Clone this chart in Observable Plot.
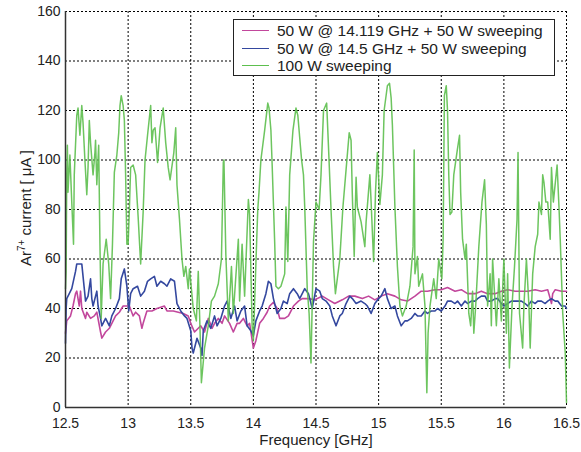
<!DOCTYPE html>
<html>
<head>
<meta charset="utf-8">
<script src="https://cdn.jsdelivr.net/npm/d3@7"></script>
<script src="https://cdn.jsdelivr.net/npm/@observablehq/plot@0.6"></script>
<style>
  html, body { margin: 0; padding: 0; background: #fff; }
  #wrap { position: relative; width: 581px; height: 452px; font-family: "Liberation Sans", Arial, sans-serif; color: #222; }
  #legend { position: absolute; left: 233px; top: 19px; width: 320px; height: 55px; border: 1px solid #222; background: #fff; font-size: 15.5px; }
  .row { position: absolute; left: 0; height: 18px; line-height: 18px; white-space: nowrap; }
  .sw { position: absolute; left: 8px; top: 8px; width: 27px; height: 0; border-top: 1.5px solid; }
  .lt { position: absolute; left: 43px; top: 0; }
  #xlabel { position: absolute; left: 0; width: 632px; top: 432px; height: 16px; line-height: 16px; text-align: center; font-size: 15px; }
  #ylabel { position: absolute; left: 25px; top: 208px; transform: translate(-50%, -50%) rotate(-90deg); font-size: 15px; white-space: nowrap; }
  #ylabel sup { font-size: 10px; vertical-align: 0; position: relative; top: -6px; }
</style>
</head>
<body>
<div id="wrap">
  <div id="chart"></div>
  <div id="legend"></div>
  <div id="xlabel">Frequency [GHz]</div>
  <div id="ylabel">Ar<sup>7+</sup> current [ μA ]</div>
</div>
<script>
const seriesNames = ["50 W @ 14.119 GHz + 50 W sweeping", "50 W @ 14.5 GHz + 50 W sweeping", "100 W sweeping"];
const seriesColors = ["#c2479c", "#34489f", "#5dbf4e"];
const xTicks = [12.5, 13, 13.5, 14, 14.5, 15, 15.5, 16, 16.5];
const xTickLabels = ["12.5", "13", "13.5", "14", "14.5", "15", "15.5", "16", "16.5"];
const yTicks = [0, 20, 40, 60, 80, 100, 120, 140, 160];

const magentaFreq = [12.5,12.51,12.54,12.56,12.58,12.59,12.61,12.62,12.63,12.66,12.67,12.7,12.73,12.75,12.78,12.79,12.82,12.85,12.87,12.9,12.93,12.96,12.98,13.01,13.04,13.06,13.09,13.11,13.12,13.15,13.19,13.23,13.26,13.29,13.31,13.36,13.4,13.44,13.48,13.5,13.53,13.56,13.58,13.61,13.64,13.67,13.69,13.72,13.75,13.77,13.81,13.84,13.87,13.89,13.92,13.95,13.97,14.0,14.02,14.05,14.08,14.11,14.13,14.16,14.19,14.21,14.25,14.28,14.32,14.36,14.39,14.44,14.49,14.55,14.6,14.65,14.71,14.76,14.81,14.87,14.92,14.97,15.02,15.07,15.13,15.18,15.23,15.29,15.34,15.39,15.45,15.5,15.55,15.61,15.66,15.71,15.77,15.82,15.87,15.93,15.98,16.03,16.09,16.14,16.19,16.25,16.3,16.35,16.37,16.38,16.39,16.41,16.46,16.5];
const magentaCurrent = [30,35,37,41,46,47,41,47,40,36,38.5,36,37,38.5,30.5,28,30.5,32,34,37,38.5,41,41,41,37,38.5,37,32,34,39,39,40,40.5,41,39,39,38.5,38,37,34,30.5,32,33,30.5,36,32,34,36,34,37,34,30.5,34,34,36,33,34,24,27,34,36,38.5,41,42.5,40,36,36,37,41,43,44,44,43.5,45,43.5,42,43.5,45,45,44,45,43.5,45,46,45,43.5,43,45,47,47,47.6,47.6,48.5,47,47.6,46,46,47,46,46,47,47.6,47,47,47,47.6,47,47.6,44,42,46,47.6,47,47];

const blueFreq = [12.5,12.505,12.51,12.53,12.55,12.58,12.59,12.63,12.65,12.66,12.68,12.7,12.71,12.72,12.75,12.76,12.78,12.79,12.82,12.85,12.87,12.9,12.93,12.945,12.97,12.99,13.005,13.02,13.04,13.075,13.1,13.13,13.155,13.18,13.21,13.23,13.26,13.29,13.31,13.34,13.37,13.39,13.42,13.45,13.47,13.5,13.51,13.52,13.55,13.58,13.59,13.6,13.63,13.66,13.69,13.71,13.74,13.77,13.79,13.82,13.85,13.87,13.9,13.93,13.95,13.98,14.0,14.02,14.05,14.07,14.1,14.12,14.14,14.16,14.19,14.22,14.24,14.27,14.29,14.32,14.35,14.37,14.41,14.44,14.47,14.5,14.53,14.55,14.58,14.61,14.63,14.66,14.69,14.71,14.74,14.77,14.79,14.82,14.86,14.89,14.91,14.94,14.97,15.0,15.02,15.05,15.07,15.1,15.13,15.15,15.18,15.21,15.23,15.26,15.29,15.31,15.34,15.37,15.39,15.42,15.45,15.47,15.5,15.53,15.55,15.58,15.61,15.63,15.66,15.69,15.71,15.74,15.77,15.79,15.82,15.85,15.87,15.9,15.93,15.95,15.98,16.0,16.03,16.06,16.09,16.11,16.14,16.17,16.19,16.22,16.25,16.27,16.3,16.33,16.35,16.38,16.41,16.43,16.46,16.49,16.5];
const blueCurrent = [26,40,44,46,48,55,58,58,48,43,45,52,44,41,47,41,36,33,36,33,37,40,44,52,56,49,39,46,48,49,45,47,51,52,53,49,51,50,49,52,51,42,39,37,36,31,24,22,28,24,21,31,35,32,37,33,36,41,43,36,41,35,39,41,33,31,29,35,39,41,46,51,50,44,38,40,43,42,46,48,46,44,48,46,40,48,47,44,43,41,37,33,37,38,42,45,44,42,43,42,41,38,42,44,45,48,44,40,41,37,33,35,35,36,38,37,37,39,38,39,39,40,39,41,43,43,42,43,41,43,42,43,43,44,45,45,43,43,44,44,42,41,42,43,43,43,43,42,41,43,42,43,43,42,43,44,43,43,41,41,40];

const greenFreq = [12.5,12.505,12.51,12.515,12.52,12.535,12.55,12.564,12.57,12.59,12.6,12.615,12.63,12.64,12.655,12.67,12.68,12.69,12.7,12.72,12.735,12.74,12.75,12.765,12.775,12.785,12.8,12.825,12.845,12.86,12.875,12.89,12.91,12.925,12.935,12.945,12.96,12.97,12.98,12.99,13.0,13.01,13.02,13.04,13.06,13.08,13.1,13.12,13.135,13.155,13.18,13.19,13.2,13.215,13.235,13.255,13.28,13.3,13.32,13.335,13.365,13.38,13.39,13.41,13.43,13.445,13.46,13.48,13.49,13.52,13.545,13.56,13.575,13.585,13.61,13.64,13.665,13.69,13.72,13.745,13.76,13.765,13.78,13.8,13.825,13.84,13.88,13.89,13.91,13.93,13.96,13.97,13.99,14.0,14.02,14.035,14.045,14.06,14.09,14.115,14.125,14.14,14.15,14.17,14.18,14.2,14.22,14.25,14.26,14.275,14.29,14.316,14.34,14.355,14.385,14.4,14.41,14.43,14.445,14.46,14.48,14.5,14.525,14.54,14.56,14.585,14.6,14.62,14.64,14.655,14.67,14.69,14.715,14.74,14.765,14.78,14.79,14.805,14.82,14.83,14.86,14.89,14.9,14.93,14.94,14.96,14.975,14.99,15.01,15.03,15.044,15.07,15.087,15.1,15.11,15.13,15.15,15.17,15.19,15.22,15.25,15.275,15.284,15.29,15.31,15.32,15.35,15.37,15.385,15.395,15.41,15.44,15.46,15.48,15.505,15.515,15.525,15.54,15.55,15.56,15.57,15.585,15.6,15.628,15.646,15.655,15.67,15.69,15.7,15.72,15.735,15.75,15.76,15.775,15.8,15.825,15.846,15.86,15.87,15.89,15.9,15.91,15.94,15.96,15.98,16.0,16.02,16.03,16.044,16.065,16.085,16.105,16.113,16.125,16.15,16.16,16.18,16.2,16.21,16.23,16.25,16.27,16.28,16.3,16.31,16.32,16.335,16.35,16.37,16.38,16.395,16.425,16.44,16.45,16.47,16.49,16.5];
const greenCurrent = [48,55,94,106,87,102,83,66,94,118,121,110,122,115,100,86,97,116,107,94,103,108,90,106,66,36,58,68,58,44,66,95,102,111,122,126,122,116,94,66,66,80,97,98,94,77,58,79,100,110,122,107,112,113,99,113,121,107,97,92,103,113,90,76,60,53,57,48,56,40,35,55,30,10,24,33,43,45,50,60,99,100,62,35,57,38,68,43,66,45,84,78,33,27,58,80,87,100,112,123,121,112,98,67,49,48,49,54,81,59,94,112,121,118,100,94,81,48,38,18,67,83,80,94,120,123,105,80,57,46,52,60,81,96,111,108,86,61,93,81,75,65,75,94,83,59,87,103,82,94,120,130,131,125,114,81,57,41,37,41,49,65,104,54,61,49,54,41,6,30,41,52,44,60,52,68,126,130,120,94,78,79,94,104,110,87,68,60,66,38,33,47,30,41,65,83,92,74,41,54,33,60,33,52,35,60,30,54,16,41,57,76,103,38,24,41,60,41,24,54,65,70,83,78,94,91,83,83,68,97,83,98,81,68,38,22,2];

const toRows = (fs, cs, s) => fs.map((f, i) => ({freq: f, current: cs[i], series: s}));
const magentaRows = toRows(magentaFreq, magentaCurrent, seriesNames[0]);
const blueRows = toRows(blueFreq, blueCurrent, seriesNames[1]);
const greenRows = toRows(greenFreq, greenCurrent, seriesNames[2]);

const plot = Plot.plot({
  width: 581,
  height: 452,
  marginLeft: 65,
  marginRight: 15,
  marginTop: 11,
  marginBottom: 45,
  style: {fontSize: "14px", fontFamily: "'Liberation Sans', Arial, sans-serif", color: "#222", background: "#fff"},
  x: {domain: [12.5, 16.5], ticks: xTicks, tickFormat: d => xTickLabels[xTicks.indexOf(d)], tickSize: 0, tickPadding: 11, label: null},
  y: {domain: [0, 160], ticks: yTicks, tickSize: 0, tickPadding: 5, label: null},
  color: {domain: seriesNames, range: seriesColors},
  marks: [
    Plot.ruleX(xTicks, {stroke: "#000", strokeWidth: 1, strokeDasharray: "2,2"}),
    Plot.ruleY(yTicks, {stroke: "#000", strokeWidth: 1, strokeDasharray: "2,2"}),
    Plot.line(magentaRows, {x: "freq", y: "current", stroke: "series", strokeWidth: 1.6}),
    Plot.line(blueRows, {x: "freq", y: "current", stroke: "series", strokeWidth: 1.6}),
    Plot.line(greenRows, {x: "freq", y: "current", stroke: "series", strokeWidth: 1.5, strokeOpacity: 0.9}),
    Plot.ruleY([0], {stroke: "#333", strokeWidth: 1.5}),
    Plot.ruleX([12.5], {stroke: "#333", strokeWidth: 1.5})
  ]
});
document.getElementById("chart").appendChild(plot);

const legend = document.getElementById("legend");
seriesNames.forEach((name, i) => {
  const row = document.createElement("div");
  row.className = "row";
  row.style.top = (2 + i * 17.5) + "px";
  row.style.width = "100%";
  const sw = document.createElement("div");
  sw.className = "sw";
  sw.style.borderTopColor = seriesColors[i];
  const lt = document.createElement("div");
  lt.className = "lt";
  lt.textContent = name;
  row.appendChild(sw);
  row.appendChild(lt);
  legend.appendChild(row);
});
</script>
</body>
</html>
